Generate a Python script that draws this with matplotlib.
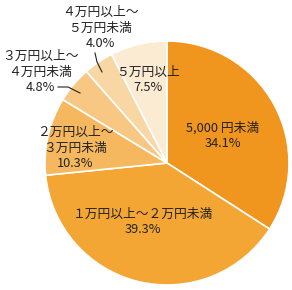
import matplotlib
matplotlib.use("Agg")
import matplotlib.pyplot as plt

plt.rcParams['font.family'] = ['Noto Sans CJK JP', 'DejaVu Sans']

labels = ["5,000 円未満", "１万円以上～２万円未満", "２万円以上～\n３万円未満",
          "３万円以上～\n４万円未満", "４万円以上～\n５万円未満", "５万円以上"]
values = [34.1, 39.3, 10.3, 4.8, 4.0, 7.5]
colors = ["#F0951E", "#F3A633", "#F5B85F", "#F7C783", "#F9D7A5", "#FCEBD3"]

H = 290
# label positions in pixels (y measured from top)
label_pos = [(223, 136), (143, 222), (75, 148), (40, 72), (100, 28), (148, 80)]

fig = plt.figure(figsize=(2.92, 2.90), dpi=100)
ax = fig.add_axes([0, 0, 1, 1])

cx, cy, r = 167, 163, 122
ax.pie(values, colors=colors, startangle=90, counterclock=False,
       center=(cx, H - cy), radius=r, frame=True,
       wedgeprops=dict(edgecolor='white', linewidth=1.2))

for lab, v, (x, y) in zip(labels, values, label_pos):
    ax.text(x, H - y, f"{lab}\n{v}%", ha='center', va='center', fontsize=9.2,
            color='#222222', linespacing=1.25)

# leader lines
ax.plot([58, 68, 80], [H - 87, H - 87, H - 93], color='#222222', lw=0.8)
ax.plot([95, 97, 102], [H - 53, H - 62, H - 72], color='#222222', lw=0.8)

ax.set_xlim(0, 292)
ax.set_ylim(0, H)
ax.set_aspect('auto')
ax.axis('off')

fig.savefig("out.png", dpi=100)
